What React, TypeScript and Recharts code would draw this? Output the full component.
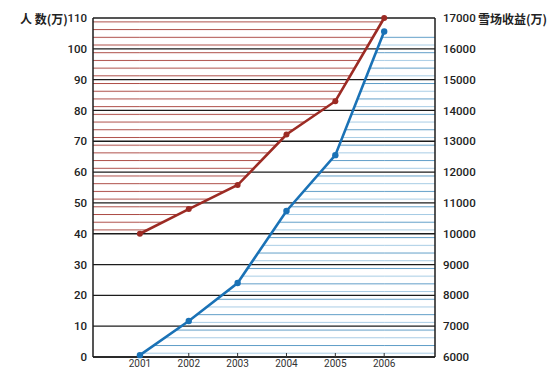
import {
  Area,
  CartesianGrid,
  ComposedChart,
  Line,
  ReferenceArea,
  XAxis,
  YAxis,
} from "recharts";

const years = [2001, 2002, 2003, 2004, 2005, 2006];
const visitors = [40, 48, 55.8, 72.2, 83, 110];
const revenue = [6060, 7170, 8400, 10740, 12550, 16560];
const leftTicks = [0, 10, 20, 30, 40, 50, 60, 70, 80, 90, 100, 110];
const rightTicks = [6000, 7000, 8000, 9000, 10000, 11000, 12000, 13000, 14000, 15000, 16000, 17000];
const xDomain = [2000.04, 2007.04];

const data = years.map((year, i) => ({
  year,
  visitors: visitors[i],
  revenue: revenue[i],
}));

const COLORS = {
  red: "#9c2b24",
  redHatch: "#ad4d47",
  blue: "#1a72b6",
  blueHatch: "#5f9dc7",
  blueHatchLight: "#a6cbe4",
  grid: "#1c1c1c",
};

// plot box (px) used to line up the hatching
const PLOT_TOP = 18;
const PLOT_H = 339;
const STEP = (PLOT_H / 110) * 2.5;

const tickStyle = { fill: "#222", fontSize: 11.5, fontFamily: "Roboto", fontWeight: 500 };

export default function App() {
  const titleStyle: React.CSSProperties = {
    position: "absolute",
    top: 12,
    fontFamily: "'Noto Sans CJK SC'",
    fontSize: 12,
    lineHeight: "13px",
    fontWeight: 700,
    color: "#222",
    whiteSpace: "pre",
  };

  return (
    <div style={{ position: "absolute", left: 0, top: 0, width: 560, height: 385, background: "#fff" }}>
      <ComposedChart
        width={560}
        height={385}
        data={data}
        margin={{ top: PLOT_TOP, right: 0, left: 0, bottom: 0 }}
      >
        <defs>
          <pattern
            id="redHatch"
            patternUnits="userSpaceOnUse"
            x={0}
            y={PLOT_TOP + 3.4}
            width={8}
            height={STEP}
          >
            <line x1={0} x2={8} y1={0.5} y2={0.5} stroke={COLORS.redHatch} strokeWidth={1} />
          </pattern>
          <pattern
            id="blueHatch"
            patternUnits="userSpaceOnUse"
            x={0}
            y={PLOT_TOP + 3.4}
            width={8}
            height={STEP * 2}
          >
            <line x1={0} x2={8} y1={0.5} y2={0.5} stroke={COLORS.blueHatch} strokeWidth={1} />
            <line
              x1={0}
              x2={8}
              y1={STEP + 0.5}
              y2={STEP + 0.5}
              stroke={COLORS.blueHatchLight}
              strokeWidth={1}
            />
          </pattern>
        </defs>
        <CartesianGrid
          yAxisId="left"
          vertical={false}
          stroke={COLORS.grid}
          strokeWidth={1.3}
        />
        <XAxis
          dataKey="year"
          type="number"
          domain={xDomain}
          ticks={years}
          height={28}
          allowDataOverflow
          tickSize={-4}
          tickMargin={7}
          tickLine={{ stroke: "#333" }}
          axisLine={{ stroke: COLORS.grid, strokeWidth: 1.5 }}
          tick={{ fill: "#333", fontSize: 10, fontFamily: "Roboto" }}
        />
        <YAxis
          yAxisId="left"
          width={93}
          domain={[0, 110]}
          ticks={leftTicks}
          tickLine={false}
          tickSize={4}
          tickMargin={2}
          axisLine={{ stroke: COLORS.grid, strokeWidth: 1.5 }}
          tick={tickStyle}
        />
        <YAxis
          yAxisId="right"
          orientation="right"
          width={125}
          domain={[6000, 17000]}
          ticks={rightTicks}
          tickLine={false}
          axisLine={{ stroke: COLORS.grid, strokeWidth: 1.5 }}
          tick={tickStyle}
        />
        <ReferenceArea
          yAxisId="left"
          x1={xDomain[0]}
          x2={years[0]}
          y1={visitors[0]}
          y2={110}
          fill="url(#redHatch)"
          fillOpacity={1}
          stroke="none"
        />
        <ReferenceArea
          yAxisId="right"
          x1={years[years.length - 1]}
          x2={xDomain[1]}
          y1={6000}
          y2={revenue[revenue.length - 1]}
          fill="url(#blueHatch)"
          fillOpacity={1}
          stroke="none"
        />
        <Area
          yAxisId="left"
          dataKey="visitors"
          type="linear"
          baseValue={110}
          stroke="none"
          fill="url(#redHatch)"
          fillOpacity={1}
          isAnimationActive={false}
        />
        <Area
          yAxisId="right"
          dataKey="revenue"
          type="linear"
          stroke="none"
          fill="url(#blueHatch)"
          fillOpacity={1}
          isAnimationActive={false}
        />
        <Line
          yAxisId="left"
          dataKey="visitors"
          type="linear"
          stroke={COLORS.red}
          strokeWidth={2.6}
          dot={{ r: 3, fill: COLORS.red, stroke: COLORS.red, strokeWidth: 0 }}
          isAnimationActive={false}
        />
        <Line
          yAxisId="right"
          dataKey="revenue"
          type="linear"
          stroke={COLORS.blue}
          strokeWidth={2.6}
          dot={{ r: 3.2, fill: COLORS.blue, stroke: COLORS.blue, strokeWidth: 0 }}
          isAnimationActive={false}
        />
      </ComposedChart>
      <div style={{ ...titleStyle, left: 20 }}>人 数(万)</div>
      <div style={{ ...titleStyle, left: 478 }}>雪场收益(万)</div>
    </div>
  );
}
